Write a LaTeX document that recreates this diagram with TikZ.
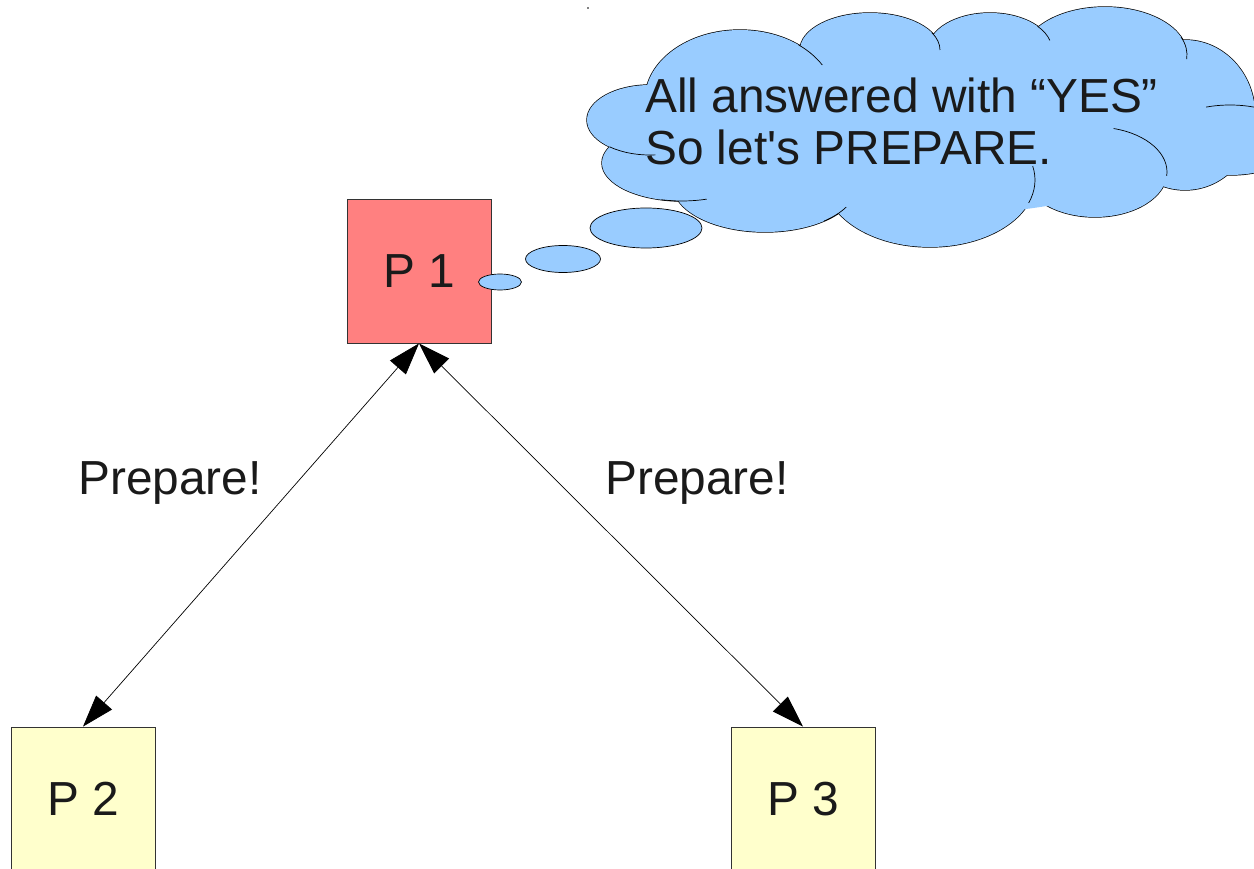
\documentclass[tikz,border=0pt]{standalone}
\usepackage{fontspec}
\setmainfont{Liberation Sans}[Ligatures=TeXOff]
\usetikzlibrary{arrows.meta}
\definecolor{pred}{HTML}{FF8080}
\definecolor{pyel}{HTML}{FFFFCC}
\definecolor{pblue}{HTML}{99CCFF}
\definecolor{ink}{HTML}{1A1A1A}
\definecolor{edge}{HTML}{333333}
\tikzset{
  procbox/.style={draw=edge, line width=0.8pt, minimum size=144pt, inner sep=0pt, text=ink},
  conn/.style={line width=0.7pt, {Triangle[length=32pt,width=21pt]}-{Triangle[length=32pt,width=21pt]}},
  lbl/.style={text=ink, inner sep=0pt},
  cloudline/.style={draw=black, line width=0.7pt},
}
\begin{document}
\begin{tikzpicture}[x=1pt, y=-1pt, font=\fontsize{47.8}{53}\selectfont]
\useasboundingbox (0,0) rectangle (1254,869);
\clip (0,0) rectangle (1254,869);
\fill[white] (0,0) rectangle (1254,869);
\fill[black] (588,8) circle (0.8);

% boxes
\node[procbox, fill=pred] (p1) at (419,271) {P 1};
\node[procbox, fill=pyel] (p2) at (83,799) {P 2};
\node[procbox, fill=pyel] (p3) at (803,799) {P 3};

% connectors
\draw[conn] (p2.north) -- (p1.south);
\draw[conn] (p3.north) -- (p1.south);
\node[lbl, anchor=base] (l1) at (170,494) {Prepare!};
\node[lbl, anchor=base] (l2) at (697,494) {Prepare!};

% cloud: outline of union
\def\cloudbumps{
  (740,100) ellipse [x radius=95, y radius=70]
  (870,50) ellipse [x radius=70, y radius=37]
  (990,50) ellipse [x radius=62, y radius=37]
  (1105,55) ellipse [x radius=82, y radius=48]
  (1185,115) ellipse [x radius=70, y radius=75]
  (1230,140) ellipse [x radius=70, y radius=35]
  (1095,172) ellipse [x radius=72, y radius=45]
  (930,180) ellipse [x radius=105, y radius=67]
  (765,185) ellipse [x radius=92, y radius=47]
  (682,163) ellipse [x radius=80, y radius=38]
  (650,120) ellipse [x radius=63, y radius=35]
}
\draw[black, line width=1.4pt] \cloudbumps;
\fill[pblue] \cloudbumps;
\fill[pblue] (930,130) ellipse [x radius=260, y radius=85];
% interior arcs
\draw[cloudline] (650,120) ++(130:63 and 35) arc [start angle=130, end angle=85, x radius=63, y radius=35];
\draw[cloudline] (682,163) ++(105:80 and 38) arc [start angle=105, end angle=72, x radius=80, y radius=38];
\draw[cloudline] (765,185) ++(50:92 and 47) arc [start angle=50, end angle=28, x radius=92, y radius=47];
\draw[cloudline] (930,180) ++(20:105 and 67) arc [start angle=20, end angle=-12, x radius=105, y radius=67];
\draw[cloudline] (1095,172) ++(-75:72 and 45) arc [start angle=-75, end angle=5, x radius=72, y radius=45];
\draw[cloudline] (1230,140) ++(250:70 and 35) arc [start angle=250, end angle=290, x radius=70, y radius=35];
\draw[cloudline] (740,100) ++(-52:95 and 70) arc [start angle=-52, end angle=-30, x radius=95, y radius=70];
\draw[cloudline] (870,50) ++(-28:70 and 37) arc [start angle=-28, end angle=0, x radius=70, y radius=37];
\draw[cloudline] (990,50) ++(-40:62 and 37) arc [start angle=-40, end angle=-15, x radius=62, y radius=37];
\draw[cloudline] (1105,55) ++(-22:82 and 48) arc [start angle=-22, end angle=5, x radius=82, y radius=48];

% thought bubbles
\draw[cloudline, fill=pblue] (646,228) ellipse [x radius=56, y radius=20];
\draw[cloudline, fill=pblue] (563,259) ellipse [x radius=37.5, y radius=13.5];
\draw[cloudline, fill=pblue] (500,282) ellipse [x radius=21.5, y radius=8];

% cloud text
\node[lbl, anchor=base west] (c1) at (645,113) {All answered with “YES”};
\node[lbl, anchor=base west] (c2) at (645,165) {So let's PREPARE.};
\end{tikzpicture}
\end{document}
